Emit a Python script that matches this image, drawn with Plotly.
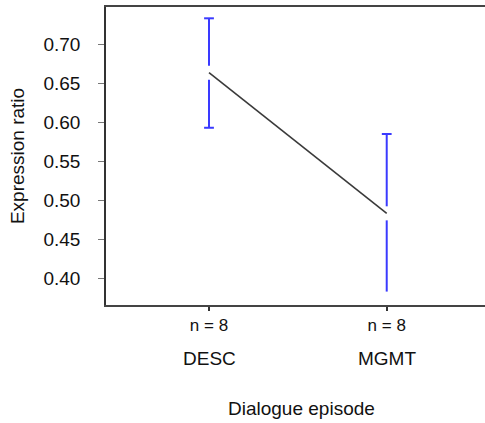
import plotly.graph_objects as go

categories = ["DESC", "MGMT"]
n_labels = ["n = 8", "n = 8"]
means = [0.6636, 0.4833]
upper = [0.7333, 0.5850]
lower = [0.5930, 0.3830]
y_ticks = [0.40, 0.45, 0.50, 0.55, 0.60, 0.65, 0.70]
y_tick_text = ["0.40", "0.45", "0.50", "0.55", "0.60", "0.65", "0.70"]

xpos = [1, 2]
GAP = 0.009
BLUE = "#3a3aff"
FONT = "Liberation Sans, Arial, sans-serif"

fig = go.Figure()

# connecting line of means
fig.add_trace(go.Scatter(x=xpos, y=means, mode="lines",
                         line=dict(color="#3a3a3a", width=1.6),
                         hoverinfo="skip", showlegend=False))

# error bars with gap around mean
for i, x in enumerate(xpos):
    fig.add_trace(go.Scatter(x=[x, x], y=[means[i] + GAP, upper[i]], mode="lines",
                             line=dict(color=BLUE, width=2), showlegend=False))
    fig.add_trace(go.Scatter(x=[x, x], y=[lower[i], means[i] - GAP], mode="lines",
                             line=dict(color=BLUE, width=2), showlegend=False))

# caps (upper for both, lower cap visible only on first)
fig.add_trace(go.Scatter(x=xpos, y=upper, mode="markers",
                         marker=dict(symbol="line-ew", size=7, line=dict(color=BLUE, width=2)),
                         showlegend=False))
fig.add_trace(go.Scatter(x=xpos[:1], y=lower[:1], mode="markers",
                         marker=dict(symbol="line-ew", size=7, line=dict(color=BLUE, width=2)),
                         showlegend=False))

# category names under n labels
for x, c in zip(xpos, categories):
    fig.add_annotation(x=x, y=0, xref="x", yref="paper", text=c, showarrow=False,
                       yanchor="middle", yshift=-53,
                       font=dict(family=FONT, size=19, color="#111"))

fig.add_annotation(x=0.517, y=0, xref="paper", yref="paper", text="Dialogue episode",
                   showarrow=False, yanchor="middle", yshift=-103,
                   font=dict(family=FONT, size=19, color="#111"))

fig.update_layout(
    width=485, height=423,
    margin=dict(l=106, r=0, t=7, b=118),
    paper_bgcolor="white", plot_bgcolor="white",
    font=dict(family=FONT, size=19, color="#111"),
    xaxis=dict(range=[0.4204, 2.553], tickvals=xpos, ticktext=n_labels,
               showgrid=False, zeroline=False,
               showline=True, mirror=True, linecolor="#444", linewidth=1.6,
               ticks="outside", ticklen=4, tickcolor="#333", tickwidth=1.5,
               tickfont=dict(family=FONT, size=17, color="#111")),
    yaxis=dict(range=[0.3658, 0.7478], tickvals=y_ticks, ticktext=y_tick_text,
               showgrid=False, zeroline=False,
               showline=True, linecolor="#333", linewidth=1.6,
               ticks="outside", ticklen=6, tickcolor="#777", tickwidth=1.2,
               ticklabelstandoff=14,
               tickfont=dict(family=FONT, size=19, color="#111"),
               title=dict(text="Expression ratio", standoff=14,
                          font=dict(family=FONT, size=19, color="#111"))),
)

fig.write_html("out.html")
